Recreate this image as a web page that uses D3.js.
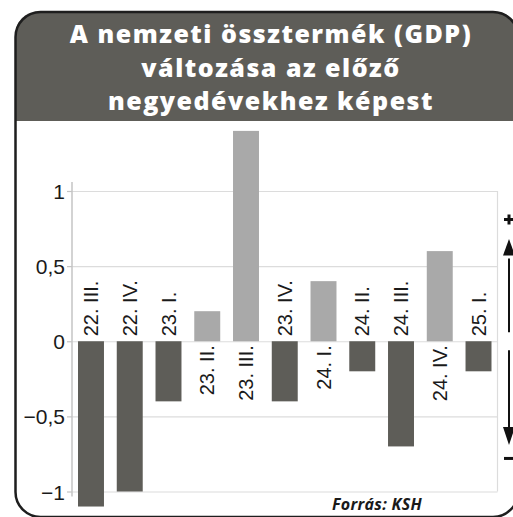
<!DOCTYPE html>
<html>
<head>
<meta charset="utf-8">
<style>
  html, body { margin: 0; padding: 0; background: #fff; }
  svg { display: block; }
  .title { font-family: "Open Sans", "Noto Sans", sans-serif; font-weight: 800; fill: #fff; letter-spacing: 1.5px; }
  .bar-label { font-family: "Liberation Sans", Arial, sans-serif; font-size: 20px; fill: #1a1a1a; }
  .y-axis text { font-family: "Liberation Sans", Arial, sans-serif; font-size: 21px; fill: #1a1a1a; }
  .source { font-family: "Open Sans", sans-serif; font-weight: 700; font-style: italic; font-size: 16px; fill: #1a1a1a; letter-spacing: 0.3px; }
</style>
</head>
<body>
<script src="https://d3js.org/d3.v7.min.js"></script>
<script>
  // Quarters and quarter-on-quarter GDP change (%)
  const quarters = ["22. III.", "22. IV.", "23. I.", "23. II.", "23. III.", "23. IV.",
                    "24. I.", "24. II.", "24. III.", "24. IV.", "25. I."];
  const changes = [-1.1, -1.0, -0.4, 0.2, 1.4, -0.4, 0.4, -0.2, -0.7, 0.6, -0.2];
  const tickValues = [-1, -0.5, 0, 0.5, 1];
  const tickLabels = ["\u22121", "\u22120,5", "0", "0,5", "1"];
  const titleLines = ["A nemzeti össztermék (GDP)", "változása az előző", "negyedévekhez képest"];

  const W = 513, H = 517;
  const plot = { left: 72, right: 497.5, top: 191, bottom: 491.5 };

  const svg = d3.select("body").append("svg")
    .attr("width", W)
    .attr("height", H);

  // Frame and dark header
  const fx = 15.5, fy = 12, fw = 502.5, fh = 505, r = 25, headerBottom = 121;
  svg.append("path")
    .attr("d", `M${fx},${headerBottom} V${fy + r} Q${fx},${fy} ${fx + r},${fy} H${fx + fw - r} Q${fx + fw},${fy} ${fx + fw},${fy + r} V${headerBottom} Z`)
    .attr("fill", "#5e5d58");
  svg.append("rect")
    .attr("x", fx).attr("y", fy)
    .attr("width", fw).attr("height", fh)
    .attr("rx", r).attr("ry", r)
    .attr("fill", "none")
    .attr("stroke", "#1e1e1e")
    .attr("stroke-width", 2.5);

  svg.selectAll(".title")
    .data(titleLines)
    .join("text")
    .attr("class", "title")
    .attr("x", 271)
    .attr("y", (d, i) => 43 + i * 33.5)
    .attr("text-anchor", "middle")
    .style("font-size", "25px")
    .text(d => d);

  // Scales
  const x = d3.scaleBand()
    .domain(quarters)
    .range([plot.left, plot.right])
    .paddingInner(0.33)
    .paddingOuter(0.155);

  const y = d3.scaleLinear()
    .domain([-1, 1])
    .range([plot.bottom, plot.top]);

  // Gridlines
  svg.append("g")
    .attr("class", "grid")
    .attr("transform", `translate(${plot.left},0)`)
    .call(d3.axisLeft(y).tickValues(tickValues).tickSize(-(plot.right - plot.left)).tickFormat(""))
    .call(g => g.select(".domain").remove())
    .call(g => g.selectAll("line").attr("stroke", "#dcdcdc").attr("stroke-width", 1.2));

  // right border of plot
  svg.append("line")
    .attr("x1", plot.right).attr("x2", plot.right)
    .attr("y1", y(1)).attr("y2", y(-1))
    .attr("stroke", "#dcdcdc").attr("stroke-width", 1.2);

  // Y axis
  const yAxis = svg.append("g")
    .attr("class", "y-axis")
    .attr("transform", `translate(${plot.left},0)`)
    .call(d3.axisLeft(y).tickValues(tickValues).tickSize(5).tickPadding(2)
      .tickFormat((d, i) => tickLabels[i]));
  yAxis.select(".domain").remove();
  yAxis.selectAll(".tick line").attr("stroke", "#c4c4c4").attr("stroke-width", 1.2);
  yAxis.selectAll(".tick text").attr("dy", "0.36em");

  svg.append("line")
    .attr("x1", plot.left).attr("x2", plot.left)
    .attr("y1", y(1) - 9).attr("y2", y(-1) + 5)
    .attr("stroke", "#c4c4c4").attr("stroke-width", 1.5);

  // Bars
  svg.selectAll(".bar")
    .data(quarters)
    .join("rect")
    .attr("class", "bar")
    .attr("x", d => x(d))
    .attr("width", x.bandwidth())
    .attr("y", (d, i) => y(Math.max(0, changes[i])))
    .attr("height", (d, i) => Math.abs(y(changes[i]) - y(0)))
    .attr("fill", (d, i) => changes[i] < 0 ? "#5e5d58" : "#a9a9a9");

  // Category labels next to the zero line
  svg.selectAll(".bar-label")
    .data(quarters)
    .join("text")
    .attr("class", "bar-label")
    .attr("transform", (d, i) => {
      const cx = x(d) + x.bandwidth() / 2;
      const cy = changes[i] < 0 ? y(0) - 5 : y(0) + 4;
      return `translate(${cx},${cy}) rotate(-90)`;
    })
    .attr("text-anchor", (d, i) => changes[i] < 0 ? "start" : "end")
    .attr("dy", "0.36em")
    .text(d => d);

  // Plus / minus arrows on the right
  const ax = 509;
  svg.append("path")
    .attr("d", `M${ax},${y(0) - 9} V${y(0.55)}`)
    .attr("stroke", "#111").attr("stroke-width", 2);
  svg.append("path")
    .attr("d", `M${ax},${y(0.68)} L${ax - 6},${y(0.57)} L${ax + 6},${y(0.57)} Z`)
    .attr("fill", "#111");
  svg.append("path")
    .attr("d", `M${ax},${y(0) + 9} V${y(-0.58)}`)
    .attr("stroke", "#111").attr("stroke-width", 2);
  svg.append("path")
    .attr("d", `M${ax},${y(-0.69)} L${ax - 6},${y(-0.57)} L${ax + 6},${y(-0.57)} Z`)
    .attr("fill", "#111");
  svg.append("path")
    .attr("d", `M${ax - 5},${y(0.81)} H${ax + 5} M${ax},${y(0.81) - 5} V${y(0.81) + 5}`)
    .attr("stroke", "#111").attr("stroke-width", 3);
  svg.append("path")
    .attr("d", `M${ax - 5},${y(-0.78)} H${ax + 5}`)
    .attr("stroke", "#111").attr("stroke-width", 3);

  // Source
  svg.append("text")
    .attr("class", "source")
    .attr("x", 377)
    .attr("y", 510)
    .attr("text-anchor", "middle")
    .text("Forrás: KSH");
</script>
</body>
</html>
